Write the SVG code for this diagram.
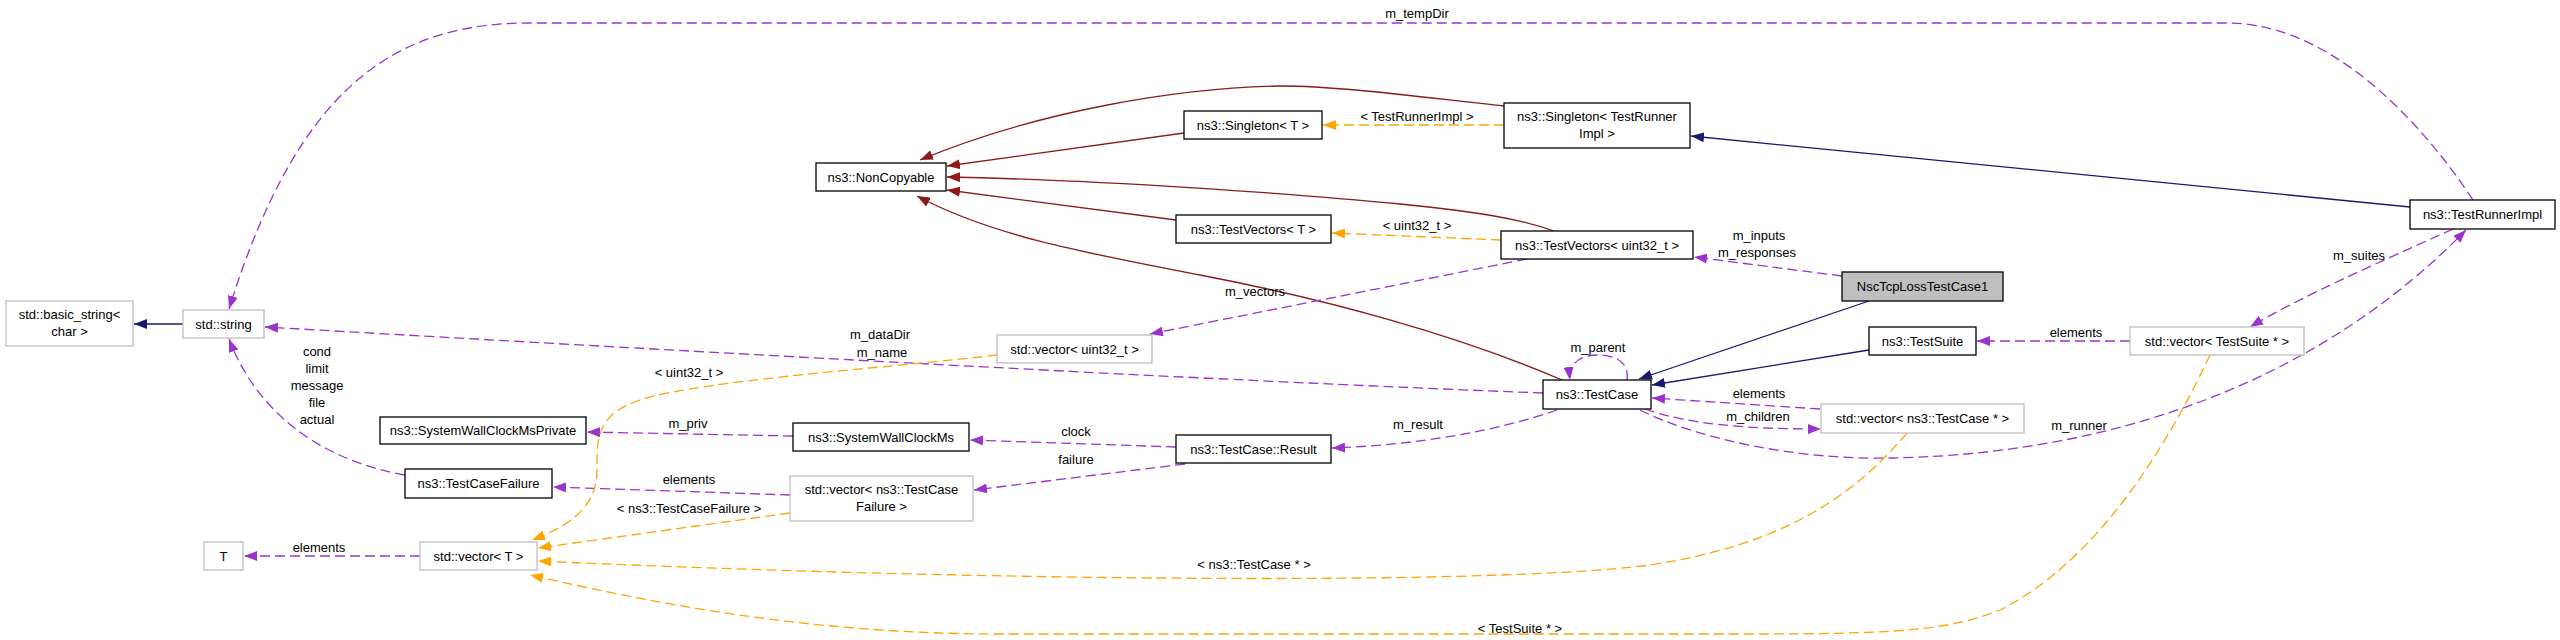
<svg xmlns="http://www.w3.org/2000/svg" width="2560" height="640" viewBox="0 0 2560 640">
<style>
text{font-family:"Liberation Sans",Arial,Helvetica,sans-serif;font-size:13px;fill:#000;text-anchor:middle}
.n rect{fill:#fff;stroke:#000;stroke-width:1.3}
.g rect{fill:#fff;stroke:#bfbfbf;stroke-width:1.3}
.cur rect{fill:#bfbfbf;stroke:#000;stroke-width:1.3}
#edges path{fill:none;stroke-width:1.3}
#edges .inh{stroke:#8b1a1a;marker-end:url(#aR)}
#edges .pub{stroke:#191970;marker-end:url(#aB)}
#edges .use{stroke:#9a32cd;stroke-dasharray:10,5;marker-end:url(#aP)}
#edges .tpl{stroke:#ffa500;stroke-dasharray:10,5;marker-end:url(#aO)}
</style>
<defs>
<marker id="aR" viewBox="0 0 13 10" refX="13" refY="5" markerWidth="13" markerHeight="10" markerUnits="userSpaceOnUse" orient="auto"><path d="M0,0L13,5L0,10z" fill="#8b1a1a"/></marker>
<marker id="aB" viewBox="0 0 13 10" refX="13" refY="5" markerWidth="13" markerHeight="10" markerUnits="userSpaceOnUse" orient="auto"><path d="M0,0L13,5L0,10z" fill="#191970"/></marker>
<marker id="aP" viewBox="0 0 13 10" refX="13" refY="5" markerWidth="13" markerHeight="10" markerUnits="userSpaceOnUse" orient="auto"><path d="M0,0L13,5L0,10z" fill="#9a32cd"/></marker>
<marker id="aO" viewBox="0 0 13 10" refX="13" refY="5" markerWidth="13" markerHeight="10" markerUnits="userSpaceOnUse" orient="auto"><path d="M0,0L13,5L0,10z" fill="#ffa500"/></marker>
</defs>
<rect width="2560" height="640" fill="#fff"/>
<g id="edges">
<path class="inh" d="M1504,106C1420,97 1340,86 1280,86C1180,88 1040,110 920,160"/>
<path class="inh" d="M1184,133L947,166"/>
<path class="inh" d="M1554,231C1520,219 1480,212 1400,204C1300,194 1100,180 947,177"/>
<path class="inh" d="M1176,220L947,190"/>
<path class="inh" d="M1562,380C1460,336 1330,300 1200,275C1080,252 990,235 917,196"/>
<path class="pub" d="M183,324L134,324"/>
<path class="pub" d="M2410,207L1691,136"/>
<path class="pub" d="M1869,301L1639,379"/>
<path class="pub" d="M1869,350L1652,385"/>
<path class="use" d="M2473,200C2420,120 2330,23 2227,23L530,23C400,23 300,80 229,309"/>
<path class="use" d="M1543,393C1200,380 700,352 265,327"/>
<path class="use" d="M405,475C330,462 260,420 229,339"/>
<path class="use" d="M793,436L587,432"/>
<path class="use" d="M790,495L553,487"/>
<path class="use" d="M420,556L244,556"/>
<path class="use" d="M1176,447L970,440"/>
<path class="use" d="M1185,464L974,490"/>
<path class="use" d="M1557,410C1500,430 1420,445 1332,448"/>
<path class="use" d="M1527,259L1150,334"/>
<path class="use" d="M1842,276L1694,257"/>
<path class="use" d="M1627,380C1630,360 1612,355 1598,355C1582,355 1568,362 1570,380"/>
<path class="use" d="M1820,409L1652,398"/>
<path class="use" d="M1645,409C1690,425 1750,429 1821,429"/>
<path class="use" d="M1640,410C1700,440 1800,460 1890,458C2080,455 2300,400 2466,230"/>
<path class="use" d="M2453,229C2380,262 2300,297 2250,327"/>
<path class="use" d="M2130,341L1977,341"/>
<path class="tpl" d="M1504,125L1323,125"/>
<path class="tpl" d="M1501,240L1332,233"/>
<path class="tpl" d="M997,355C900,367 700,380 640,400C595,415 597,440 597,470C597,500 580,522 532,540"/>
<path class="tpl" d="M790,513L538,548"/>
<path class="tpl" d="M1907,433C1850,500 1780,545 1650,565C1500,585 1000,582 538,561"/>
<path class="tpl" d="M2210,355C2170,440 2100,560 2000,610C1950,630 1900,634 1750,634L1000,634C800,634 640,600 530,575"/>
<text x="1417" y="17.5">m_tempDir</text>
<text x="880" y="338.5">m_dataDir</text>
<text x="882" y="356.5">m_name</text>
<text x="317" y="355.5">cond</text>
<text x="317" y="372.5">limit</text>
<text x="317" y="389.5">message</text>
<text x="317" y="406.5">file</text>
<text x="317" y="423.5">actual</text>
<text x="688" y="427.5">m_priv</text>
<text x="689" y="483.5">elements</text>
<text x="319" y="551.5">elements</text>
<text x="1076" y="435.5">clock</text>
<text x="1076" y="463.5">failure</text>
<text x="1418" y="428.5">m_result</text>
<text x="1255" y="295.5">m_vectors</text>
<text x="1759" y="239.5">m_inputs</text>
<text x="1757" y="256.5">m_responses</text>
<text x="1598" y="351.5">m_parent</text>
<text x="1759" y="397.5">elements</text>
<text x="1758" y="420.5">m_children</text>
<text x="2079" y="429.5">m_runner</text>
<text x="2359" y="259.5">m_suites</text>
<text x="2076" y="336.5">elements</text>
<text x="1417" y="120.5">&lt; TestRunnerImpl &gt;</text>
<text x="1417" y="229.5">&lt; uint32_t &gt;</text>
<text x="689" y="376.5">&lt; uint32_t &gt;</text>
<text x="689" y="512.5">&lt; ns3::TestCaseFailure &gt;</text>
<text x="1254" y="568.5">&lt; ns3::TestCase * &gt;</text>
<text x="1520" y="632.5">&lt; TestSuite * &gt;</text>
</g>
<g id="basic_string" class="g"><rect x="6" y="301" width="127" height="45"/><text x="69.5" y="318.5">std::basic_string&lt;</text><text x="69.5" y="336">char &gt;</text></g>
<g id="std_string" class="g"><rect x="183" y="310" width="81" height="28"/><text x="223.5" y="328.5">std::string</text></g>
<g id="SystemWallClockMsPrivate" class="n"><rect x="380" y="417" width="206" height="27"/><text x="483" y="435">ns3::SystemWallClockMsPrivate</text></g>
<g id="TestCaseFailure" class="n"><rect x="405" y="469" width="147" height="29"/><text x="478.5" y="488">ns3::TestCaseFailure</text></g>
<g id="T" class="g"><rect x="204" y="542" width="39" height="28"/><text x="223.5" y="560.5">T</text></g>
<g id="vector_T" class="g"><rect x="420" y="542" width="117" height="28"/><text x="478.5" y="560.5">std::vector&lt; T &gt;</text></g>
<g id="NonCopyable" class="n"><rect x="816" y="163" width="130" height="28"/><text x="881" y="181.5">ns3::NonCopyable</text></g>
<g id="Singleton_T" class="n"><rect x="1184" y="111" width="138" height="28"/><text x="1253" y="129.5">ns3::Singleton&lt; T &gt;</text></g>
<g id="TestVectors_T" class="n"><rect x="1176" y="215" width="155" height="28"/><text x="1253.5" y="233.5">ns3::TestVectors&lt; T &gt;</text></g>
<g id="Singleton_TestRunnerImpl" class="n"><rect x="1504" y="103" width="186" height="45"/><text x="1597" y="120.5">ns3::Singleton&lt; TestRunner</text><text x="1597" y="137.5">Impl &gt;</text></g>
<g id="TestVectors_uint32" class="n"><rect x="1501" y="231" width="192" height="28"/><text x="1597" y="249.5">ns3::TestVectors&lt; uint32_t &gt;</text></g>
<g id="NscTcpLossTestCase1" class="cur"><rect x="1842" y="272" width="161" height="29"/><text x="1922.5" y="291">NscTcpLossTestCase1</text></g>
<g id="vector_uint32" class="g"><rect x="997" y="335" width="155" height="28"/><text x="1074.5" y="353.5">std::vector&lt; uint32_t &gt;</text></g>
<g id="SystemWallClockMs" class="n"><rect x="793" y="423" width="176" height="28"/><text x="881" y="441.5">ns3::SystemWallClockMs</text></g>
<g id="vector_TestCaseFailure" class="g"><rect x="790" y="476" width="183" height="45"/><text x="881.5" y="493.5">std::vector&lt; ns3::TestCase</text><text x="881.5" y="510.5">Failure &gt;</text></g>
<g id="TestCase_Result" class="n"><rect x="1176" y="435" width="155" height="28"/><text x="1253.5" y="453.5">ns3::TestCase::Result</text></g>
<g id="TestCase" class="n"><rect x="1543" y="380" width="108" height="29"/><text x="1597" y="399">ns3::TestCase</text></g>
<g id="TestSuite" class="n"><rect x="1869" y="327" width="107" height="28"/><text x="1922.5" y="345.5">ns3::TestSuite</text></g>
<g id="vector_TestCase" class="g"><rect x="1821" y="404" width="203" height="29"/><text x="1922.5" y="423">std::vector&lt; ns3::TestCase * &gt;</text></g>
<g id="TestRunnerImpl" class="n"><rect x="2410" y="200" width="145" height="29"/><text x="2482.5" y="219">ns3::TestRunnerImpl</text></g>
<g id="vector_TestSuite" class="g"><rect x="2130" y="327" width="174" height="28"/><text x="2217" y="345.5">std::vector&lt; TestSuite * &gt;</text></g>
</svg>
